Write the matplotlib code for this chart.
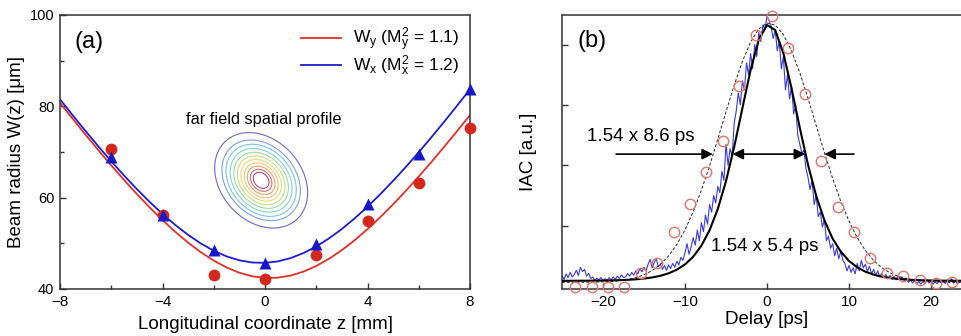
import numpy as np
import matplotlib
matplotlib.use("Agg")
import matplotlib.pyplot as plt
from matplotlib.ticker import FixedLocator, NullFormatter

plt.rcParams['font.family'] = ['Liberation Sans', 'DejaVu Sans']
plt.rcParams['mathtext.fontset'] = 'custom'
plt.rcParams['mathtext.rm'] = 'Liberation Sans'
plt.rcParams['mathtext.it'] = 'Liberation Sans:italic'
plt.rcParams['mathtext.bf'] = 'Liberation Sans:bold'

# ---------------- Panel (a) data ----------------
z_meas = [-6, -4, -2, 0, 2, 4, 6, 8]
wy_meas = [70.7, 56.2, 43.1, 42.2, 47.4, 54.9, 63.2, 75.2]
wx_meas = [68.8, 56.3, 48.5, 45.8, 49.9, 58.6, 69.5, 83.9]

z_fit = [-8, -7.5, -7, -6.5, -6, -5.5, -5, -4.5, -4, -3.5, -3, -2.5, -2, -1.5, -1, -0.5,
         0, 0.5, 1, 1.5, 2, 2.5, 3, 3.5, 4, 4.5, 5, 5.5, 6, 6.5, 7, 7.5, 8]
wy_fit = [80.78, 77.24, 73.77, 70.38, 67.07, 63.88, 60.80, 57.86, 55.09, 52.51, 50.15,
          48.04, 46.22, 44.71, 43.56, 42.79, 42.43, 42.48, 42.94, 43.80, 45.04, 46.62,
          48.52, 50.69, 53.11, 55.74, 58.55, 61.52, 64.63, 67.86, 71.19, 74.60, 78.08]
wx_fit = [81.54, 78.01, 74.57, 71.21, 67.97, 64.85, 61.87, 59.06, 56.43, 54.02, 51.85,
          49.96, 48.38, 47.14, 46.28, 45.80, 45.72, 46.05, 46.77, 47.87, 49.31, 51.09,
          53.15, 55.47, 58.02, 60.77, 63.69, 66.75, 69.95, 73.27, 76.68, 80.17, 83.74]

# far-field profile (inset contour) description
ff_center = (-0.15, 63.8)        # (mm, um) position in panel (a)
ff_sigma = (23.5, 18.0)          # px, major / minor
ff_angle = -48.0                 # deg
ff_levels = [0.0796, 0.1645, 0.2357, 0.3247, 0.4185, 0.5163, 0.6187, 0.7145, 0.7990,
             0.8735, 0.9303]
ff_colors = ['#6a6ac4', '#7f9fe0', '#7cc4e6', '#80d6cf', '#9fdaa0', '#c6df88',
             '#e6dd7e', '#efc478', '#e8a06e', '#cf7272', '#a85070']

# ---------------- Panel (b) data ----------------
circ_delay = [-23.4, -21.4, -19.4, -17.4, -15.4, -13.4, -11.4, -9.4, -7.4, -5.4, -3.4, -1.4,
              0.6, 2.6, 4.6, 6.6, 8.6, 10.6, 12.6, 14.6, 16.6, 18.6, 20.6, 22.6]
circ_iac = [-0.004, -0.004, -0.004, -0.004, 0.042, 0.075, 0.179, 0.272, 0.379, 0.480, 0.664,
            0.832, 0.896, 0.790, 0.635, 0.414, 0.261, 0.178, 0.092, 0.042, 0.034, 0.020,
            0.011, 0.012]

fit_delay = list(range(-25, 26))
fit_narrow = [0.0171, 0.0172, 0.0174, 0.0175, 0.0178, 0.0180, 0.0185, 0.0193, 0.0204, 0.0221,
              0.0246, 0.0283, 0.0338, 0.0419, 0.0539, 0.0715, 0.0970, 0.1336, 0.1850, 0.2554,
              0.3474, 0.4611, 0.5892, 0.7157, 0.8160, 0.8649, 0.8481, 0.7708, 0.6541, 0.5241,
              0.4018, 0.2986, 0.2176, 0.1572, 0.1137, 0.0831, 0.0619, 0.0474, 0.0375, 0.0308,
              0.0263, 0.0232, 0.0212, 0.0198, 0.0189, 0.0183, 0.0178, 0.0176, 0.0174, 0.0173,
              0.0172]
fit_wide = [0.0121, 0.0121, 0.0122, 0.0125, 0.0129, 0.0137, 0.0151, 0.0174, 0.0213, 0.0275,
            0.0370, 0.0511, 0.0715, 0.0997, 0.1373, 0.1858, 0.2460, 0.3174, 0.3986, 0.4867,
            0.5774, 0.6653, 0.7444, 0.8083, 0.8518, 0.8712, 0.8647, 0.8329, 0.7785, 0.7064,
            0.6222, 0.5320, 0.4420, 0.3569, 0.2803, 0.2145, 0.1603, 0.1173, 0.0845, 0.0604,
            0.0434, 0.0318, 0.0240, 0.0191, 0.0161, 0.0143, 0.0132, 0.0126, 0.0123, 0.0121,
            0.0121]

trace_iac = [
    # -25 .. -17.5
    0.035, 0.022, 0.040, 0.028, 0.045, 0.030, 0.038, 0.052, 0.035, 0.062, 0.048, 0.055,
    0.033, 0.042, 0.025, 0.030, 0.018, 0.026, 0.020, 0.028, 0.017, 0.024, 0.019, 0.027,
    0.021, 0.030, 0.022, 0.033, 0.025, 0.036, 0.028,
    # -17.25 .. -10.5
    0.030, 0.041, 0.033, 0.045, 0.036, 0.050, 0.040, 0.058, 0.047, 0.062, 0.050, 0.072,
    0.088, 0.060, 0.078, 0.090, 0.064, 0.072, 0.055, 0.068, 0.052, 0.070, 0.058, 0.075,
    0.062, 0.082, 0.070, 0.095,
    # -10.25 .. -5.5
    0.085, 0.110, 0.140, 0.105, 0.130, 0.160, 0.135, 0.185, 0.150, 0.210, 0.180, 0.235,
    0.205, 0.270, 0.245, 0.300, 0.275, 0.330, 0.310, 0.380,
    # -5.25 .. -0.25
    0.350, 0.470, 0.400, 0.455, 0.430, 0.540, 0.580, 0.640, 0.600, 0.680, 0.650, 0.740,
    0.700, 0.770, 0.720, 0.800, 0.760, 0.840, 0.810, 0.865, 0.850,
    # 0 .. 5
    0.895, 0.880, 0.860, 0.820, 0.850, 0.780, 0.810, 0.720, 0.760, 0.650, 0.700, 0.620,
    0.660, 0.570, 0.600, 0.500, 0.470, 0.440, 0.450, 0.390, 0.360,
    # 5.25 .. 10
    0.320, 0.350, 0.270, 0.300, 0.230, 0.245, 0.195, 0.220, 0.150, 0.165, 0.125, 0.140,
    0.100, 0.125, 0.090, 0.115, 0.085, 0.075, 0.050, 0.068,
    # 10.25 .. 25
    0.045, 0.060, 0.040, 0.075, 0.050, 0.085, 0.060, 0.072, 0.048, 0.065, 0.040, 0.055,
    0.035, 0.050, 0.030, 0.042, 0.028, 0.038, 0.025, 0.035, 0.022, 0.032, 0.020, 0.036,
    0.024, 0.030, 0.018, 0.026, 0.012, 0.020, 0.010, 0.018, 0.008, 0.015, 0.006, 0.014,
    0.008, 0.020, 0.010, 0.016, 0.006, 0.014, 0.008, 0.018, 0.010, 0.016, 0.008, 0.020,
    0.012, 0.024, 0.010, 0.016, 0.008, 0.014, 0.010, 0.018, 0.009, 0.015, 0.010, 0.016,
]
trace_delay = np.linspace(-25, 25, len(trace_iac))

# ---------------- Figure ----------------
W, H = 961, 336
fig = plt.figure(figsize=(W / 100, H / 100), dpi=100)

spine_col = '#333333'


def style_axes(ax):
    for s in ax.spines.values():
        s.set_linewidth(1.1)
        s.set_color(spine_col)
    ax.tick_params(which='both', direction='in', width=1.0, color=spine_col,
                   labelsize=11, pad=4)
    ax.tick_params(which='major', length=4.5)
    ax.tick_params(which='minor', length=3)


# Panel (a)
axa = fig.add_axes([60 / W, 47 / H, 410 / W, 274 / H])
style_axes(axa)
axa.set_xlim(-8, 8)
axa.set_ylim(40, 100)
axa.xaxis.set_major_locator(FixedLocator([-8, -4, 0, 4, 8]))
axa.xaxis.set_minor_locator(FixedLocator([-6, -2, 2, 6]))
axa.yaxis.set_major_locator(FixedLocator([40, 60, 80, 100]))
axa.yaxis.set_minor_locator(FixedLocator([50, 70, 90]))
axa.tick_params(axis='y', labelsize=10.5)

axa.plot(z_fit, wy_fit, color='#e0302c', lw=1.3,
         label=r'W$_{\mathregular{y}}$ (M$^{\mathregular{2}}_{\mathregular{y}}$ = 1.1)')
axa.plot(z_fit, wx_fit, color='#1c1ccc', lw=1.3,
         label=r'W$_{\mathregular{x}}$ (M$^{\mathregular{2}}_{\mathregular{x}}$ = 1.2)')
axa.plot(z_meas, wy_meas, 'o', color='#d4281e', ms=8.5, mec='none', zorder=3, clip_on=False)
axa.plot(z_meas, wx_meas, '^', color='#1818c8', ms=8.5, mec='none', zorder=3, clip_on=False)

leg = axa.legend(loc='upper right', frameon=False, fontsize=12.5, handlelength=2.3,
                 handletextpad=0.7, labelspacing=0.02, borderaxespad=0.2)

axa.text(0.035, 0.90, '(a)', transform=axa.transAxes, fontsize=17, ha='left', va='center')
axa.text(-0.05, 77.2, 'far field spatial profile', fontsize=11.8, ha='center', va='center')

axa.set_xlabel('Longitudinal coordinate z [mm]', fontsize=13.5)
axa.set_ylabel('Beam radius W(z) [\u03bcm]', fontsize=13.5)
axa.xaxis.set_label_coords(0.5, -0.097)
axa.yaxis.set_label_coords(-0.085, 0.5)

# far-field contour, in pixel-scaled coordinates of panel (a)
sx = 410 / 16.0
sy = 274 / 60.0
gz = np.linspace(-3.0, 2.8, 240)
gw = np.linspace(48, 80, 240)
GZ, GW = np.meshgrid(gz, gw)
du = (GZ - ff_center[0]) * sx
dv = (GW - ff_center[1]) * sy
th = np.deg2rad(ff_angle)
a = du * np.cos(th) + dv * np.sin(th)
b = -du * np.sin(th) + dv * np.cos(th)
field = np.exp(-a ** 2 / (2 * ff_sigma[0] ** 2) - b ** 2 / (2 * ff_sigma[1] ** 2))
axa.contour(GZ, GW, field, levels=ff_levels, colors=ff_colors, linewidths=0.8)

# Panel (b)
axb = fig.add_axes([562 / W, 47 / H, 410 / W, 274 / H])
style_axes(axb)
axb.set_xlim(-25, 25)
axb.set_ylim(-0.01, 0.898)
axb.xaxis.set_major_locator(FixedLocator([-20, -10, 0, 10, 20]))
axb.yaxis.set_major_locator(FixedLocator([0.2, 0.4, 0.6, 0.8]))
axb.yaxis.set_major_formatter(NullFormatter())

axb.plot(trace_delay, trace_iac, color='#3a3ad6', lw=0.8, zorder=2)
axb.plot(fit_delay, fit_wide, color='#222222', lw=0.7, ls=(0, (3, 2)), zorder=3)
axb.plot(fit_delay, fit_narrow, color='black', lw=1.5, zorder=4)
axb.plot(circ_delay, circ_iac, 'o', mfc='none', mec='#e0766a', mew=1.0, ms=7.5, zorder=5,
         clip_on=False)

yarr = 0.437
ap = dict(arrowstyle='-|>', color='black', lw=1.2, mutation_scale=16, shrinkA=0, shrinkB=0)
axb.annotate('', xy=(-6.6, yarr), xytext=(-18.4, yarr), arrowprops=ap)
axb.annotate('', xy=(7.0, yarr), xytext=(10.6, yarr), arrowprops=ap)
axb.annotate('', xy=(4.65, yarr), xytext=(-4.2, yarr),
             arrowprops=dict(arrowstyle='<|-|>', color='black', lw=1.2, mutation_scale=16,
                             shrinkA=0, shrinkB=0))

axb.text(-21.9, 0.495, '1.54 x 8.6 ps', fontsize=13.5, ha='left', va='center')
axb.text(-6.8, 0.13, '1.54 x 5.4 ps', fontsize=13.5, ha='left', va='center', zorder=6)
axb.text(-23.1, 0.812, '(b)', fontsize=17, ha='left', va='center')

axb.set_xlabel('Delay [ps]', fontsize=13.5)
axb.set_ylabel('IAC [a.u.]', fontsize=13.5)
axb.xaxis.set_label_coords(0.5, -0.08)
axb.yaxis.set_label_coords(-0.06, 0.5)

fig.savefig('out.png', dpi=100)
